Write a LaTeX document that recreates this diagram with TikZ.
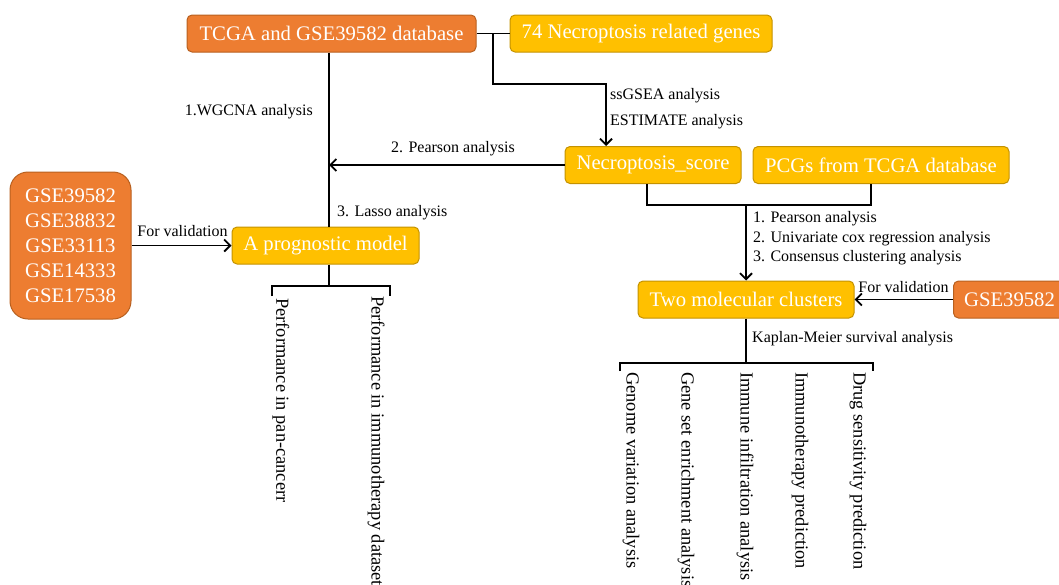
\documentclass[tikz,border=0pt]{standalone}
\usepackage{fontspec}
\setmainfont{Liberation Serif}
\usetikzlibrary{arrows.meta}
\definecolor{orangefill}{HTML}{ED7D31}
\definecolor{orangeline}{HTML}{B8601F}
\definecolor{yellowfill}{HTML}{FFC000}
\definecolor{yellowline}{HTML}{C49200}
\begin{document}
\begin{tikzpicture}[x=1pt,y=-1pt,
  box/.style={rounded corners=5pt, line width=1pt, text=white,
    font=\fontsize{20.7}{25}\selectfont, inner sep=0pt, minimum height=37pt},
  obox/.style={box, fill=orangefill, draw=orangeline},
  ybox/.style={box, fill=yellowfill, draw=yellowline},
  lbl/.style={font=\fontsize{16}{19}\selectfont, inner sep=0pt},
  vlbl/.style={font=\fontsize{18.4}{22}\selectfont, rotate=-90, anchor=west, inner sep=0pt},
  conn/.style={line width=1.8pt},
  arr/.style={conn, -{Straight Barb[length=6pt,width=12pt,line width=1.8pt]}}]
\useasboundingbox (0,0) rectangle (1059,584);

% boxes
\node[obox, minimum width=289pt] (tcga) at (331.5,33.5) {TCGA and GSE39582 database};
\node[ybox, minimum width=262pt] (nrg) at (641,33.5) {74 Necroptosis related genes};
\node[ybox, minimum width=176pt] (ns) at (653,165) {Necroptosis\_score};
\node[ybox, minimum width=256pt] (pcg) at (881,165) {PCGs from TCGA database};
\node[ybox, minimum width=187pt] (pm) at (325.5,245.5) {A prognostic model};
\node[ybox, minimum width=216pt] (tmc) at (746,299.5) {Two molecular clusters};
\node[obox, minimum width=112pt, anchor=west] (gse1) at (953,299.5) {GSE39582};
\node[obox, rounded corners=18pt, minimum width=121pt, minimum height=147pt,
  align=center, font=\fontsize{20.7}{25}\selectfont] (gsel) at (70.5,245.5)
  {GSE39582\\GSE38832\\GSE33113\\GSE14333\\GSE17538};

% helper coordinates
\coordinate (spine) at (329,100);
\coordinate (j1) at (493,33.5);
\coordinate (j2) at (493,84);
\coordinate (j3) at (606,84);
\coordinate (m1) at (647,205);
\coordinate (m2) at (871,205);
\coordinate (bl1) at (272,286);
\coordinate (bl2) at (390,286);
\coordinate (br1) at (620,363);
\coordinate (br2) at (873,363);

% connectors
\draw[conn] (tcga.east) -- (nrg.west);
\draw[arr] (j1) -- (j2) -- (j3) -- (j3 |- ns.north);
\draw[conn] (tcga.south -| spine) -- (pm.north -| spine);
\draw[arr] (ns.west) -- (ns.west -| spine);
\draw[conn] (ns.south -| m1) -- (m1) -- (m2) -- (m2 |- pcg.south);
\draw[arr] (tmc.north |- m1) -- (tmc.north);
\draw[arr] (gse1.west) -- (tmc.east);
\draw[arr] (gsel.east) -- (pm.west);
\draw[conn] (pm.south -| spine) -- (bl1 -| spine);
\draw[conn] ([yshift=-10pt]bl1) -- (bl1) -- (bl2) -- ([yshift=-10pt]bl2);
\draw[conn] (tmc.south) -- (tmc.south |- br1);
\draw[conn] ([yshift=-8pt]br1) -- (br1) -- (br2) -- ([yshift=-8pt]br2);

% labels
\node[lbl, anchor=east] (l1) at (313,112) {1.WGCNA analysis};
\node[lbl] (l2) at (453,149) {2. Pearson analysis};
\node[lbl, anchor=west] (l3) at (337,213) {3. Lasso analysis};
\node[lbl, anchor=west] (l4) at (610,96) {ssGSEA analysis};
\node[lbl, anchor=west] (l5) at (610,122) {ESTIMATE analysis};
\node[lbl, anchor=west] (l6) at (753,219) {1. Pearson analysis};
\node[lbl, anchor=west] (l7) at (753,239) {2. Univariate cox regression analysis};
\node[lbl, anchor=west] (l8) at (753,258) {3. Consensus clustering analysis};
\node[lbl] (l9) at (903.5,287) {For validation};
\node[lbl] (l10) at (182.5,231) {For validation};
\node[lbl, anchor=west] (l11) at (752,339) {Kaplan-Meier survival analysis};

% vertical labels
\node[vlbl] (v1) at (281,298) {Performance in pan-cancerr};
\node[vlbl] (v2) at (376,296) {Performance in immunotherapy dataset};
\node[vlbl] (v3) at (631,372) {Genome variation analysis};
\node[vlbl] (v4) at (686,372) {Gene set enrichment analysis};
\node[vlbl] (v5) at (745,372) {Immune infiltration analysis};
\node[vlbl] (v6) at (800,372) {Immunotherapy prediction};
\node[vlbl] (v7) at (858,372) {Drug sensitivity prediction};
\end{tikzpicture}
\end{document}
